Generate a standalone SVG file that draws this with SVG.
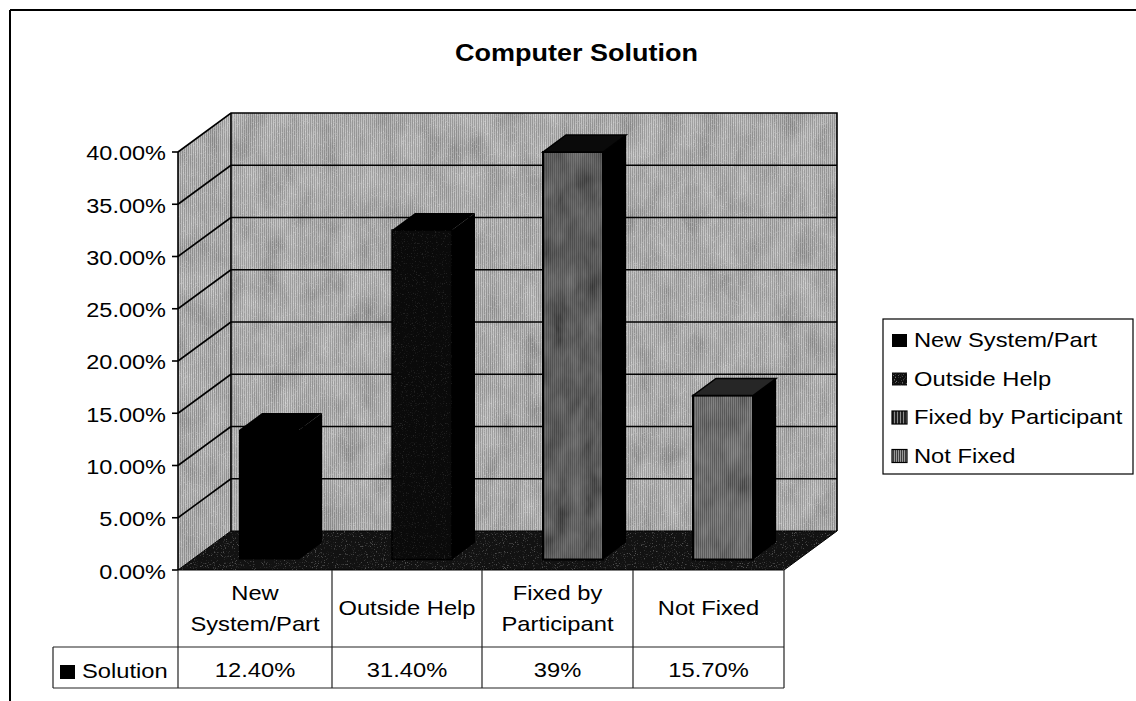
<svg xmlns="http://www.w3.org/2000/svg" width="1136" height="701" viewBox="0 0 1136 701">
<style>
.t{font-family:"Liberation Sans",Arial,sans-serif;font-size:21px;fill:#000}
.ttl{font-family:"Liberation Sans",Arial,sans-serif;font-size:24px;font-weight:bold;fill:#000}
.ln{stroke:#000;stroke-width:1.6;fill:none}
.tb{stroke:#222;stroke-width:1.2;fill:none}
</style>
<defs>
<pattern id="wall" width="2" height="4" patternUnits="userSpaceOnUse"><rect width="2" height="4" fill="#bdbdbd"/><rect width="1" height="4" fill="#828282"/></pattern>
<pattern id="p3" width="2" height="4" patternUnits="userSpaceOnUse"><rect width="2" height="4" fill="#464646"/><rect width="1" height="4" fill="#1c1c1c"/></pattern>
<pattern id="p4" width="2" height="4" patternUnits="userSpaceOnUse"><rect width="2" height="4" fill="#767676"/><rect width="1" height="4" fill="#404040"/></pattern>
<pattern id="k3" width="3" height="4" patternUnits="userSpaceOnUse"><rect width="3" height="4" fill="#202020"/><rect width="1" height="4" fill="#8a8a8a"/></pattern>
<pattern id="k4" width="2" height="4" patternUnits="userSpaceOnUse"><rect width="2" height="4" fill="#3a3a3a"/><rect width="1" height="4" fill="#9a9a9a"/></pattern>
<filter id="mottle" x="0" y="0" width="1" height="1">
<feTurbulence type="fractalNoise" baseFrequency="0.05 0.03" numOctaves="3" seed="5" result="n"/>
<feColorMatrix in="n" type="matrix" values="0.5 0.5 0 0 0  0.5 0.5 0 0 0  0.5 0.5 0 0 0  0 0 0 0 1" result="g"/>
<feComposite in="g" in2="SourceAlpha" operator="in"/>
</filter>
<filter id="mottleDark" x="0" y="0" width="1" height="1">
<feTurbulence type="fractalNoise" baseFrequency="0.06 0.03" numOctaves="3" seed="11" result="n"/>
<feColorMatrix in="n" type="matrix" values="0.3 0.3 0 0 -0.05  0.3 0.3 0 0 -0.05  0.3 0.3 0 0 -0.05  0 0 0 0 1" result="g"/>
<feComposite in="g" in2="SourceAlpha" operator="in"/>
</filter>
<filter id="grain" x="0" y="0" width="1" height="1">
<feTurbulence type="fractalNoise" baseFrequency="0.9" numOctaves="2" seed="9" result="n"/>
<feColorMatrix in="n" type="matrix" values="0 0 0 0 1  0 0 0 0 1  0 0 0 0 1  0 0 0 6 -3.6" result="g"/>
<feComposite in="g" in2="SourceAlpha" operator="in"/>
</filter>
</defs>

<rect width="1136" height="701" fill="#fff"/>
<g id="frame">
<line x1="10" y1="10" x2="1136" y2="10" stroke="#000" stroke-width="2"/>
<line x1="10" y1="10" x2="10" y2="701" stroke="#000" stroke-width="2"/>
</g>

<g id="title"><text class="ttl" text-anchor="middle" transform="translate(576.5 61) scale(1.125 1)">Computer Solution</text></g>

<g id="walls">
<rect x="231" y="113" width="606" height="418" fill="url(#wall)"/>
<rect x="231" y="113" width="606" height="418" fill="#888" filter="url(#mottle)" opacity="0.35"/>
<rect x="231" y="113" width="606" height="418" fill="#fff" filter="url(#grain)" opacity="0.25"/>
<polygon points="178,152 231,113 231,531 178,570" fill="url(#wall)"/>
<polygon points="178,152 231,113 231,531 178,570" fill="#888" filter="url(#mottle)" opacity="0.3"/>
<polygon points="178,152 231,113 231,531 178,570" fill="#fff" filter="url(#grain)" opacity="0.25"/>
</g>

<g id="gridlines" class="ln">
<line x1="231" y1="165.25" x2="837" y2="165.25"/>
<line x1="231" y1="217.5" x2="837" y2="217.5"/>
<line x1="231" y1="269.75" x2="837" y2="269.75"/>
<line x1="231" y1="322" x2="837" y2="322"/>
<line x1="231" y1="374.25" x2="837" y2="374.25"/>
<line x1="231" y1="426.5" x2="837" y2="426.5"/>
<line x1="231" y1="478.75" x2="837" y2="478.75"/>
<line x1="178" y1="204.25" x2="231" y2="165.25"/>
<line x1="178" y1="256.5" x2="231" y2="217.5"/>
<line x1="178" y1="308.75" x2="231" y2="269.75"/>
<line x1="178" y1="361" x2="231" y2="322"/>
<line x1="178" y1="413.25" x2="231" y2="374.25"/>
<line x1="178" y1="465.5" x2="231" y2="426.5"/>
<line x1="178" y1="517.75" x2="231" y2="478.75"/>
<polyline points="178,152 231,113 837,113 837,531"/>
<line x1="231" y1="113" x2="231" y2="531"/>
<line x1="178" y1="152" x2="178" y2="570"/>
</g>

<g id="floor">
<polygon points="178,570 784,570 837,531 231,531" fill="#121212" stroke="#000" stroke-width="1"/>
<polygon points="178,570 784,570 837,531 231,531" fill="#fff" filter="url(#grain)" opacity="0.25"/>
</g>

<g id="bar-new-system">
<rect x="239" y="430" width="60" height="129.5" fill="#000"/>
<polygon points="239,430 262,413 322,413 299,430" fill="#000"/>
<polygon points="299,430 322,413 322,542.5 299,559.5" fill="#000"/>
</g>
<g id="bar-outside-help">
<rect x="392" y="230" width="60" height="329.5" fill="#0a0a0a" stroke="#000" stroke-width="1.5"/>
<rect x="392" y="230" width="60" height="329.5" fill="#fff" filter="url(#grain)" opacity="0.1"/>
<polygon points="392,230 415,213 475,213 452,230" fill="#000"/>
<polygon points="452,230 475,213 475,542.5 452,559.5" fill="#000"/>
</g>
<g id="bar-fixed-by-participant">
<rect x="543" y="152" width="60" height="407.5" fill="url(#p3)"/>
<rect x="543" y="152" width="60" height="407.5" fill="#333" filter="url(#mottleDark)" opacity="0.5"/>
<rect x="543" y="152" width="60" height="407.5" fill="none" stroke="#000" stroke-width="2"/>
<polygon points="543,152 566,135 626,135 603,152" fill="#0a0a0a" stroke="#000" stroke-width="1.5"/>
<polygon points="603,152 626,135 626,542.5 603,559.5" fill="#000"/>
</g>
<g id="bar-not-fixed">
<rect x="693" y="395.5" width="60" height="164" fill="url(#p4)"/>
<rect x="693" y="395.5" width="60" height="164" fill="#555" filter="url(#mottleDark)" opacity="0.4"/>
<rect x="693" y="395.5" width="60" height="164" fill="none" stroke="#000" stroke-width="2"/>
<polygon points="693,395.5 716,378.5 776,378.5 753,395.5" fill="#262626" stroke="#000" stroke-width="1.5"/>
<polygon points="753,395.5 776,378.5 776,542.5 753,559.5" fill="#000"/>
</g>

<g id="axis">
<g class="ln">
<line x1="172" y1="152" x2="178" y2="152"/>
<line x1="172" y1="204.25" x2="178" y2="204.25"/>
<line x1="172" y1="256.5" x2="178" y2="256.5"/>
<line x1="172" y1="308.75" x2="178" y2="308.75"/>
<line x1="172" y1="361" x2="178" y2="361"/>
<line x1="172" y1="413.25" x2="178" y2="413.25"/>
<line x1="172" y1="465.5" x2="178" y2="465.5"/>
<line x1="172" y1="517.75" x2="178" y2="517.75"/>
<line x1="172" y1="570" x2="178" y2="570"/>
</g>
<g class="t" text-anchor="end">
<text transform="translate(166 160) scale(1.12 1)">40.00%</text>
<text transform="translate(166 212.5) scale(1.12 1)">35.00%</text>
<text transform="translate(166 264.5) scale(1.12 1)">30.00%</text>
<text transform="translate(166 317) scale(1.12 1)">25.00%</text>
<text transform="translate(166 369) scale(1.12 1)">20.00%</text>
<text transform="translate(166 421.5) scale(1.12 1)">15.00%</text>
<text transform="translate(166 473.5) scale(1.12 1)">10.00%</text>
<text transform="translate(166 526) scale(1.12 1)">5.00%</text>
<text transform="translate(166 578.5) scale(1.12 1)">0.00%</text>
</g>
</g>

<g id="data-table">
<g class="tb">
<line x1="178" y1="570" x2="178" y2="688"/>
<line x1="332" y1="570" x2="332" y2="688"/>
<line x1="482" y1="570" x2="482" y2="688"/>
<line x1="633" y1="570" x2="633" y2="688"/>
<line x1="784" y1="570" x2="784" y2="688"/>
<line x1="53" y1="647" x2="784" y2="647"/>
<line x1="53" y1="688" x2="784" y2="688"/>
<line x1="53" y1="647" x2="53" y2="688"/>
</g>
<g class="t" text-anchor="middle">
<text transform="translate(255 600) scale(1.13 1)">New</text>
<text transform="translate(255 631) scale(1.13 1)">System/Part</text>
<text transform="translate(407 615) scale(1.13 1)">Outside Help</text>
<text transform="translate(557.5 600) scale(1.13 1)">Fixed by</text>
<text transform="translate(557.5 631) scale(1.13 1)">Participant</text>
<text transform="translate(708.5 615) scale(1.13 1)">Not Fixed</text>
<text transform="translate(255 677) scale(1.13 1)">12.40%</text>
<text transform="translate(407 677) scale(1.13 1)">31.40%</text>
<text transform="translate(557.5 677) scale(1.13 1)">39%</text>
<text transform="translate(708.5 677) scale(1.13 1)">15.70%</text>
</g>
<rect x="60" y="665" width="15" height="14" fill="#000"/>
<text class="t" transform="translate(82 678) scale(1.13 1)">Solution</text>
</g>

<g id="legend">
<rect x="883" y="319" width="250" height="155" fill="#fff" stroke="#000" stroke-width="1.2"/>
<rect x="892" y="334" width="15" height="13" fill="#000"/>
<rect x="892" y="372.5" width="15" height="13" fill="#0e0e0e"/>
<rect x="892" y="372.5" width="15" height="13" fill="#fff" filter="url(#grain)" opacity="0.4"/>
<rect x="892" y="411" width="15" height="13" fill="url(#k3)" stroke="#000" stroke-width="1.2"/>
<rect x="892" y="449.5" width="15" height="13" fill="url(#k4)" stroke="#000" stroke-width="1.2"/>
<g class="t">
<text transform="translate(914 347) scale(1.13 1)">New System/Part</text>
<text transform="translate(914 385.5) scale(1.13 1)">Outside Help</text>
<text transform="translate(914 424) scale(1.13 1)">Fixed by Participant</text>
<text transform="translate(914 462.5) scale(1.13 1)">Not Fixed</text>
</g>
</g>
</svg>
